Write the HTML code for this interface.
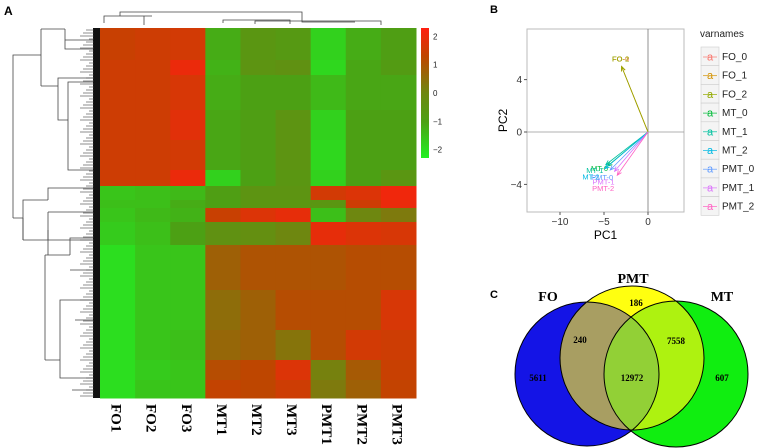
<!DOCTYPE html>
<html><head><meta charset="utf-8">
<style>
html,body{margin:0;padding:0;background:#fff;}
svg{display:block;font-family:"Liberation Sans",sans-serif;}
</style></head>
<body>
<svg id="fig" width="759" height="448" viewBox="0 0 759 448" xmlns="http://www.w3.org/2000/svg">
<text x="4" y="15" font-size="12" font-weight="bold">A</text>
<text x="490" y="13" font-size="11" font-weight="bold">B</text>
<text x="490" y="298" font-size="11" font-weight="bold">C</text>
<g id="heat"></g>
<g id="dendro" stroke="#444" stroke-width="0.8" fill="none"></g>
<g id="pca"></g>
<g id="venn"></g>
</svg>
<script>
// ===== Heatmap data =====
const sampleNames = ["FO1","FO2","FO3","MT1","MT2","MT3","PMT1","PMT2","PMT3"];
const rowCounts = [32,15,35,30,30,16,14,8,14,23,45,40,30,20,18];
const heatValues = [
 [1.2,1.3,1.4,-1.2,-0.6,-0.7,-1.8,-1.2,-0.9],
 [1.3,1.3,1.9,-1.3,-0.5,-0.4,-1.9,-1.1,-0.8],
 [1.3,1.3,1.5,-1.2,-1.0,-1.0,-1.4,-1.1,-1.1],
 [1.3,1.3,1.7,-1.1,-0.9,-0.5,-1.8,-1.0,-1.0],
 [1.3,1.3,1.4,-1.1,-0.9,-0.5,-1.9,-1.0,-1.0],
 [1.3,1.3,1.9,-1.8,-1.0,-0.6,-1.8,-1.0,-0.6],
 [-1.6,-1.5,-1.4,-0.9,-0.5,-0.5,1.4,1.6,2.0],
 [-1.5,-1.5,-1.2,-1.0,-0.6,-0.6,-0.6,1.3,1.9],
 [-1.6,-1.4,-1.3,1.2,1.6,1.8,-1.5,0.0,0.2],
 [-1.7,-1.5,-1.0,-0.4,-0.3,0.0,1.8,1.6,1.5],
 [-2.0,-1.6,-1.6,0.6,0.8,0.8,0.8,0.9,0.9],
 [-2.0,-1.6,-1.6,0.4,0.6,0.9,0.9,0.9,1.5],
 [-2.0,-1.6,-1.5,0.5,0.6,0.3,0.9,1.4,1.3],
 [-2.0,-1.7,-1.6,0.9,1.0,1.6,0.1,0.7,1.2],
 [-2.0,-1.6,-1.6,1.1,1.0,1.3,0.2,0.6,1.1]
];
const colorTicks = [2,1,0,-1,-2];

// ===== PCA data =====
const varNames = ["FO_0","FO_1","FO_2","MT_0","MT_1","MT_2","PMT_0","PMT_1","PMT_2"];
const pc1 = [-3.0,-3.0,-3.0,-4.6,-4.8,-4.9,-4.3,-3.8,-3.5];
const pc2 = [5.0,5.0,5.0,-2.6,-2.5,-2.8,-2.9,-3.0,-3.3];
const xTicks = [-10,-5,0];
const yTicks = [4,0,-4];

// ===== Venn data =====
const vennSets = ["FO","PMT","MT"];
const vennCounts = {fo:5611, foPmt:240, pmt:186, pmtMt:7558, all:12972, mt:607};

const NS="http://www.w3.org/2000/svg";
function mk(tag, attrs, parent){const e=document.createElementNS(NS,tag);for(const k in attrs)e.setAttribute(k,attrs[k]);parent.appendChild(e);return e;}

// ---- heatmap ----
(function(){
 const g=document.getElementById('heat');
 const x0=100,x1=416,y0=28,y1=398;
 const total=rowCounts.reduce((a,b)=>a+b,0);
 const cw=(x1-x0)/sampleNames.length;
 const yScale=c=>y0+(y1-y0)*c/total;
 const stops=[[-2.3,[34,240,34]],[-1,[76,160,20]],[0,[110,135,16]],[1,[190,70,0]],[2.3,[255,30,16]]];
 function col(v){v=Math.max(-2.3,Math.min(2.3,v));for(let i=0;i<stops.length-1;i++){const a=stops[i],b=stops[i+1];if(v<=b[0]){const t=(v-a[0])/(b[0]-a[0]);return 'rgb('+a[1].map((c,j)=>Math.round(c+(b[1][j]-c)*t)).join(',')+')';}}return 'rgb(255,30,16)';}
 let cum=0;
 heatValues.forEach((row,r)=>{
  const ya=yScale(cum);cum+=rowCounts[r];const yb=yScale(cum);
  row.forEach((v,c)=>{
   const el=mk('rect',{x:x0+c*cw,y:ya,width:cw+0.5,height:yb-ya+0.5,fill:col(v)},g);
   
   
  });
 });
 sampleNames.forEach((n,c)=>{
  const cx=x0+c*cw+cw/2;
  const t=mk('text',{x:0,y:0,transform:'translate('+(cx-6)+',404) rotate(90)','font-size':'15','font-weight':'bold','font-family':'Liberation Serif,serif'},g);
  t.textContent=n;
  
  
 });
 const kx=421,ky0=28,ky1=158;
 const grad=mk('linearGradient',{id:'kg',x1:0,y1:0,x2:0,y2:1},mk('defs',{},g));
 [[0,'rgb(255,30,16)'],[0.22,'rgb(190,70,0)'],[0.5,'rgb(110,135,16)'],[0.72,'rgb(76,160,20)'],[1,'rgb(34,240,34)']].forEach(s=>mk('stop',{offset:s[0],'stop-color':s[1]},grad));
 const key=mk('rect',{x:kx,y:ky0,width:8,height:ky1-ky0,fill:'url(#kg)'},g);
 
 
 const ks=v=>ky0+(2.3-v)/4.6*(ky1-ky0);
 colorTicks.forEach(v=>{
  const t=mk('text',{x:433,y:ks(v)+3,'font-size':'8',fill:'#222'},g);
  t.textContent=v<0?'−'+(-v):String(v);
  
  
 });
})();

// ---- dendrograms (decorative) ----
(function(){
 const g=document.getElementById('dendro');
 const segs=[
  "M13,218 V55 H41 M13,218 H23 M23,218 V240 M23,240 H100",
  "M23,240 V200 H48 M48,200 V188 H100 M48,212 H100 M48,212 V240",
  "M41,29 V86 M41,29 H65 M41,86 H58 M65,29 V49 H100 M65,40 H100",
  "M58,86 V78 H68 M58,86 V120 H68 M68,78 H100 M68,120 V82 H100 M68,120 V170 H100",
  "M45,255 V360 M45,255 H70 M45,360 H60 M70,255 V238 H100 M70,270 H100",
  "M60,360 V300 H75 M60,360 V378 H72 M75,300 H100 M75,320 H100 M72,378 H100 M72,390 H100",
  "M48,230 V255",
  "M104,23 V16 H144 V23 M120,16 V12 H302 V16 M144,16 H152 M144,23 V25 M223,23 V20 H290 V23 M290,23 V24 M255,24 V21 H381 V25 M302,16 V22 H355"
 ];
 segs.forEach(d=>{const p=mk('path',{d:d},g);});
 const leaves=mk('rect',{x:93,y:28,width:7,height:370,fill:'#111',stroke:'none'},g);
 
 
 for(let y=30;y<398;y+=3){const l=mk('path',{d:'M'+(80+(y*7)%12)+','+y+' H94','stroke-width':'0.6'},g);}
})();

// ---- PCA ----
(function(){
 const g=document.getElementById('pca');
 const L=527,R=684,T=29,B=212;
 const xs=v=>648+v*8.8, ys=v=>132-v*13.1;
 const frame=mk('rect',{x:L,y:T,width:R-L,height:B-T,fill:'#fff',stroke:'#bbb','stroke-width':'1'},g);
 
 
 mk('line',{x1:xs(0),x2:xs(0),y1:T,y2:B,stroke:'#777','stroke-width':'0.8'},g);
 mk('line',{x1:L,x2:R,y1:ys(0),y2:ys(0),stroke:'#999','stroke-width':'0.8'},g);
 xTicks.forEach(v=>{mk('line',{x1:xs(v),x2:xs(v),y1:B,y2:B+3,stroke:'#555'},g);const t=mk('text',{x:xs(v),y:B+13,'text-anchor':'middle','font-size':'10',fill:'#333'},g);t.textContent=v<0?'−'+(-v):v;});
 yTicks.forEach(v=>{mk('line',{x1:L-3,x2:L,y1:ys(v),y2:ys(v),stroke:'#555'},g);const t=mk('text',{x:L-5,y:ys(v)+3.5,'text-anchor':'end','font-size':'10',fill:'#333'},g);t.textContent=v<0?'−'+(-v):v;});
 const xt=mk('text',{x:(L+R)/2,y:B+27,'text-anchor':'middle','font-size':'12'},g);xt.textContent='PC1';
 
 const yt=mk('text',{x:0,y:0,transform:'translate('+(L-20)+','+((T+B)/2)+') rotate(-90)','text-anchor':'middle','font-size':'12'},g);yt.textContent='PC2';
 
 const cols=['#F8766D','#D39200','#93AA00','#00BA38','#00C19F','#00B9E3','#619CFF','#DB72FB','#FF61C3'];
 varNames.forEach((n,i)=>{
  const x2=xs(pc1[i]),y2=ys(pc2[i]),x1=xs(0),y1=ys(0);
  const a=Math.atan2(y2-y1,x2-x1);
  const d='M'+x1+','+y1+' L'+x2+','+y2+' M'+(x2-5*Math.cos(a-0.4))+','+(y2-5*Math.sin(a-0.4))+' L'+x2+','+y2+' L'+(x2-5*Math.cos(a+0.4))+','+(y2-5*Math.sin(a+0.4));
  const p=mk('path',{d:d,stroke:cols[i],'stroke-width':'0.8',fill:'none'},g);
  
  
  const lbl=n.replace('_','-');
  const isFO=n.startsWith('FO');
  const t=mk('text',{x:isFO?x2-1:x2-8-(i%3)*3,y:isFO?y2-5:y2+5+(i%3)*3+(i>5?5:0),'text-anchor':'middle','font-size':'7.5',fill:cols[i]},g);
  t.textContent=lbl;
  
  
 });
 const lt=mk('text',{x:700,y:37,'font-size':'10',fill:'#222'},g);lt.textContent='varnames';
 
 varNames.forEach((n,i)=>{
  const y=47+i*18.7;
  const r=mk('rect',{x:701,y:y,width:18,height:18.7,fill:'#f4f4f4',stroke:'#ccc','stroke-width':'0.6'},g);
  
  mk('line',{x1:703,x2:717,y1:y+10,y2:y+10,stroke:cols[i],'stroke-width':'0.7'},g);
  const a=mk('text',{x:710,y:y+13.5,'text-anchor':'middle','font-size':'11',fill:cols[i]},g);a.textContent='a';
  
  const t=mk('text',{x:722,y:y+13,'font-size':'10',fill:'#222'},g);t.textContent=n;
  
 });
})();

// ---- Venn ----
(function(){
 const g=document.getElementById('venn');
 const fo={cx:587,cy:374,rx:72,ry:72}, mt={cx:676,cy:374,rx:72,ry:73}, pm={cx:632,cy:358,rx:72,ry:72};
 const defs=mk('defs',{},g);
 [['cFO',fo],['cMT',mt],['cPM',pm]].forEach(([id,e])=>{const c=mk('clipPath',{id:id},defs);mk('ellipse',{cx:e.cx,cy:e.cy,rx:e.rx,ry:e.ry},c);});
 const el=(e,fill,clip,name)=>{const a={cx:e.cx,cy:e.cy,rx:e.rx,ry:e.ry,fill:fill};if(clip)a['clip-path']='url(#'+clip+')';const x=mk('ellipse',a,g);return x;};
 el(fo,'#1414e6',null,'set-fo');
 el(mt,'#10ee10',null,'set-mt');
 el(pm,'#ffff10',null,'set-pmt');
 el(pm,'#a89e62','cFO','overlap-fo-pmt');
 el(pm,'#aef210','cMT','overlap-pmt-mt');
 const gg=mk('g',{'clip-path':'url(#cFO)'},g);
 const all=mk('ellipse',{cx:mt.cx,cy:mt.cy,rx:mt.rx,ry:mt.ry,fill:'#92d036','clip-path':'url(#cPM)'},gg);
 
 [fo,mt,pm].forEach(e=>mk('ellipse',{cx:e.cx,cy:e.cy,rx:e.rx,ry:e.ry,fill:'none',stroke:'#000','stroke-width':'1'},g));
 const txt=(x,y,s,size,name)=>{const t=mk('text',{x:x,y:y,'text-anchor':'middle','font-size':size,'font-weight':'bold','font-family':'Liberation Serif,serif'},g);t.textContent=s;};
 txt(548,301,vennSets[0],14,'set-label-fo');
 txt(633,283,vennSets[1],14,'set-label-pmt');
 txt(722,301,vennSets[2],14,'set-label-mt');
 txt(538,381,vennCounts.fo,9,'count-fo');
 txt(580,343,vennCounts.foPmt,9,'count-fo-pmt');
 txt(636,306,vennCounts.pmt,9,'count-pmt');
 txt(676,344,vennCounts.pmtMt,9,'count-pmt-mt');
 txt(632,381,vennCounts.all,9,'count-all');
 txt(722,381,vennCounts.mt,9,'count-mt');
})();
</script>
</body></html>
